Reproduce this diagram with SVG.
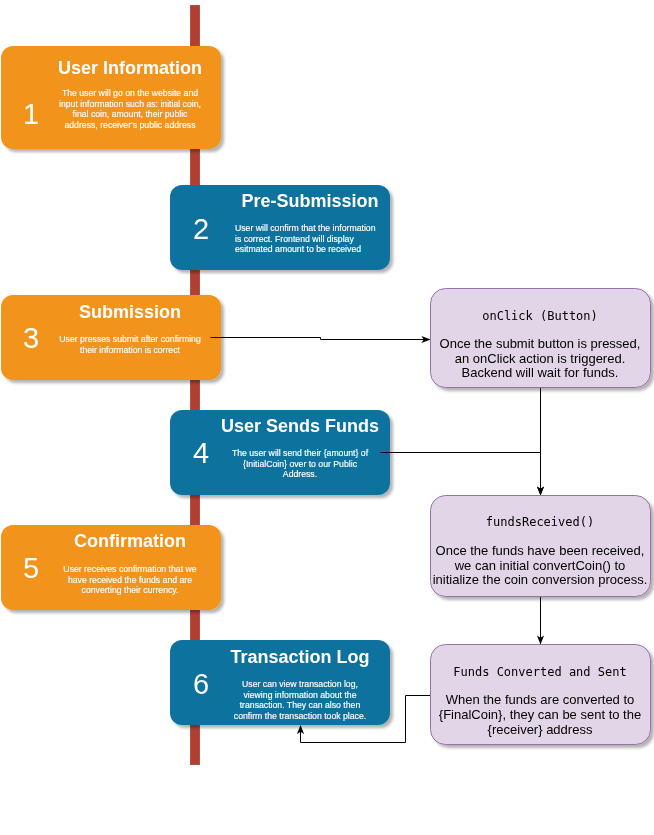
<svg xmlns="http://www.w3.org/2000/svg" width="654" height="835" viewBox="0 0 654 835">
<defs>
<marker id="arr" viewBox="0 0 10 10" refX="9" refY="5" markerWidth="9" markerHeight="9" orient="auto" markerUnits="userSpaceOnUse">
<path d="M0,1 L10,5 L0,9 L2.5,5 Z" fill="#000"/>
</marker>
<filter id="sh" x="-10%" y="-10%" width="130%" height="130%">
<feGaussianBlur in="SourceAlpha" stdDeviation="1.5"/>
<feOffset dx="3" dy="3" result="b"/>
<feComponentTransfer><feFuncA type="linear" slope="0.3"/></feComponentTransfer>
<feMerge><feMergeNode/><feMergeNode in="SourceGraphic"/></feMerge>
</filter>
</defs>
<style>
.or{fill:#F2931E;}
.bl{fill:#10739E;}
.pu{fill:#E1D5E7;stroke:#9673A6;stroke-width:1;}
.t{font-family:"Liberation Sans",Arial,sans-serif;fill:#fff;font-weight:bold;font-size:18px;text-anchor:middle;}
.n{font-family:"Liberation Sans",Arial,sans-serif;fill:#fff;font-size:29px;text-anchor:middle;}
.b{font-family:"Liberation Sans",Arial,sans-serif;fill:#fff;font-size:8.7px;text-anchor:middle;stroke:#fff;stroke-width:0.15;}
.bs{text-anchor:start;}
.m{font-family:"DejaVu Sans Mono","Liberation Mono",monospace;fill:#000;font-size:12px;text-anchor:middle;}
.r{font-family:"Liberation Sans",Arial,sans-serif;fill:#000;font-size:13px;text-anchor:middle;}
.c{fill:none;stroke:#000;stroke-width:1;}
</style>
<rect x="190" y="5" width="10" height="760" fill="#AE4132" stroke="#fff" stroke-opacity="0.3" stroke-width="0.5"/>

<g id="step1" filter="url(#sh)">
<rect class="or" x="1" y="46" width="220" height="103" rx="12"/>
<text class="n" x="31" y="124">1</text>
<text class="t" x="130" y="74">User Information</text>
<text class="b" x="130" y="96">The user will go on the website and</text>
<text class="b" x="130" y="106.5">input information such as: initial coin,</text>
<text class="b" x="130" y="117">final coin, amount, their public</text>
<text class="b" x="130" y="127.5">address, receiver's public address</text>
</g>

<g id="step2" filter="url(#sh)">
<rect class="bl" x="170" y="185" width="220" height="85" rx="12"/>
<text class="n" x="201" y="239">2</text>
<text class="t" x="310" y="207">Pre-Submission</text>
<text class="b bs" x="235" y="231">User will confirm that the information</text>
<text class="b bs" x="235" y="241.5">is correct. Frontend will display</text>
<text class="b bs" x="235" y="252">esitmated amount to be received</text>
</g>

<g id="step3" filter="url(#sh)">
<rect class="or" x="1" y="295" width="220" height="85" rx="12"/>
<text class="n" x="31" y="348">3</text>
<text class="t" x="130" y="318">Submission</text>
<text class="b" x="130" y="342">User presses submit after confirming</text>
<text class="b" x="130" y="352.5">their information is correct</text>
</g>

<g id="step4" filter="url(#sh)">
<rect class="bl" x="170" y="410" width="220" height="85" rx="12"/>
<text class="n" x="201" y="463">4</text>
<text class="t" x="300" y="432">User Sends Funds</text>
<text class="b" x="300" y="456">The user will send their {amount} of</text>
<text class="b" x="300" y="466.5">{InitialCoin} over to our Public</text>
<text class="b" x="300" y="477">Address.</text>
</g>

<g id="step5" filter="url(#sh)">
<rect class="or" x="1" y="525" width="220" height="85" rx="12"/>
<text class="n" x="31" y="578">5</text>
<text class="t" x="130" y="547">Confirmation</text>
<text class="b" x="130" y="572">User receives confirmation that we</text>
<text class="b" x="130" y="582.5">have received the funds and are</text>
<text class="b" x="130" y="593">converting their currency.</text>
</g>

<g id="step6" filter="url(#sh)">
<rect class="bl" x="170" y="640" width="220" height="85" rx="12"/>
<text class="n" x="201" y="694">6</text>
<text class="t" x="300" y="663">Transaction Log</text>
<text class="b" x="300" y="687">User can view transaction log,</text>
<text class="b" x="300" y="697.5">viewing information about the</text>
<text class="b" x="300" y="708">transaction. They can also then</text>
<text class="b" x="300" y="718.5">confirm the transaction took place.</text>
</g>

<g id="onclick" filter="url(#sh)">
<rect class="pu" x="430.5" y="288.5" width="220" height="99" rx="15"/>
<text class="m" x="540" y="320">onClick (Button)</text>
<text class="r" x="540" y="348">Once the submit button is pressed,</text>
<text class="r" x="540" y="362.5">an onClick action is triggered.</text>
<text class="r" x="540" y="377">Backend will wait for funds.</text>
</g>

<g id="fundsReceived" filter="url(#sh)">
<rect class="pu" x="430.5" y="495.5" width="220" height="101" rx="15"/>
<text class="m" x="540" y="526">fundsReceived()</text>
<text class="r" x="540" y="555">Once the funds have been received,</text>
<text class="r" x="540" y="569.5">we can initial convertCoin() to</text>
<text class="r" x="540" y="584">initialize the coin conversion process.</text>
</g>

<g id="fundsConverted" filter="url(#sh)">
<rect class="pu" x="430.5" y="644.5" width="220" height="100" rx="15"/>
<text class="m" x="540" y="676">Funds Converted and Sent</text>
<text class="r" x="540" y="704">When the funds are converted to</text>
<text class="r" x="540" y="719">{FinalCoin}, they can be sent to the</text>
<text class="r" x="540" y="734">{receiver} address</text>
</g>

<g id="connectors">
<path class="c" d="M210.5,337.5 H320.5 V339.5 H429.5" marker-end="url(#arr)"/>
<path class="c" d="M380.5,452.5 H540.5 V494.5" marker-end="url(#arr)"/>
<path class="c" d="M540.5,388 V494.5" marker-end="url(#arr)"/>
<path class="c" d="M540.5,597 V643.5" marker-end="url(#arr)"/>
<path class="c" d="M430,695.5 H405.5 V742.5 H300.5 V726" marker-end="url(#arr)"/>
</g>
</svg>
